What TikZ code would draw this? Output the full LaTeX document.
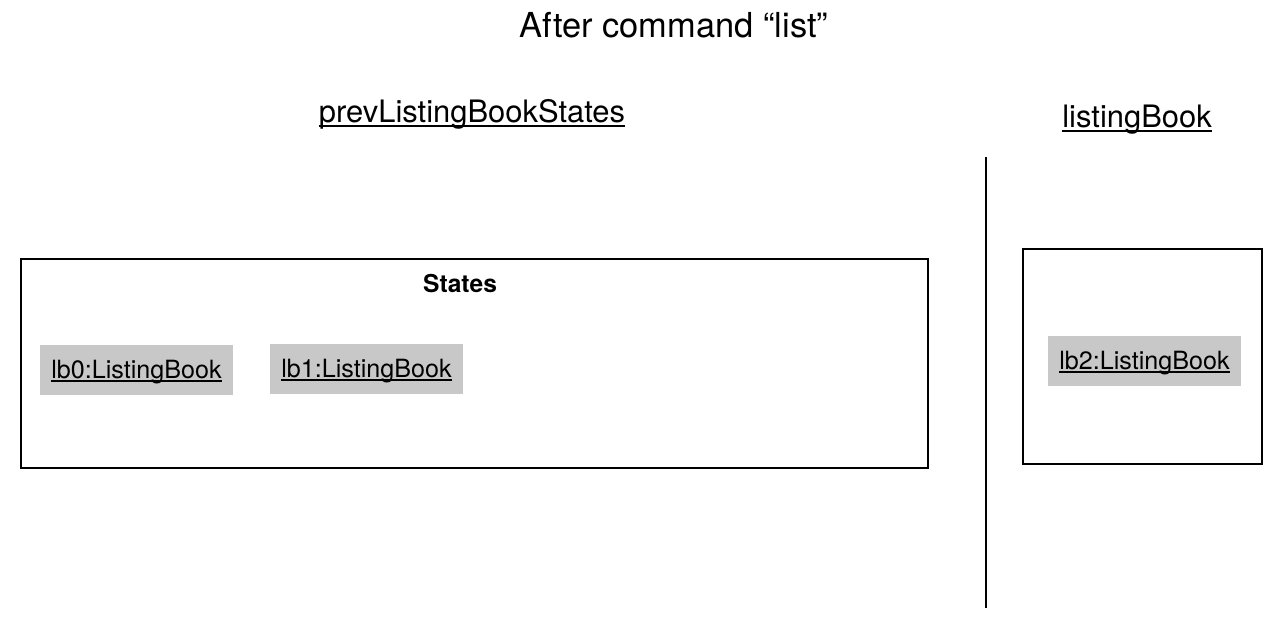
\documentclass[tikz,border=0pt]{standalone}
\usepackage{fontspec}
\setmainfont{TeX Gyre Heros}
\usepackage{tikz}

\definecolor{objgray}{RGB}{200,200,200}

% underline that sits just below the baseline
\newcommand{\undl}[1]{\setbox0\hbox{#1}\rlap{\vrule height -0.09em depth 0.15em width \wd0}\box0}

\begin{document}
\begin{tikzpicture} [x=0.02cm, y=-0.02cm,
  frame/.style = {draw,
    line width = 1.3pt,
    rectangle,
    inner sep = 0pt},
  obj/.style = {fill=objgray,
    anchor = base,
    minimum width = 3.86cm,
    text height = 0.66cm,
    text depth = 0.34cm,
    inner sep = 0pt,
    font = \fontsize{14.3}{16}\selectfont},
  heading/.style = {anchor = base,
    font = \fontsize{17.6}{20}\selectfont}]

\useasboundingbox (0,0) rectangle (1280,620);

\node (title) at (674,37) [anchor=base, font=\fontsize{19.6}{22}\selectfont] {After command “list”};

\node (prev) at (472,122) [heading] {\undl{prevListingBookStates}};
\node (cur) at (1137,127) [heading] {\undl{listingBook}};

\draw [line width=1.3pt] (986,157) -- (986,608);

\node (states) at (474.5,363.5) [frame, minimum width=18.14cm, minimum height=4.18cm] {};
\node (statesname) at (460,292) [anchor=base, font=\fontsize{14}{16}\selectfont\bfseries] {States};

\node (lb0) at (136.5,378) [obj] {\undl{lb0:ListingBook}};
\node (lb1) at (366.5,377) [obj] {\undl{lb1:ListingBook}};

\node (current) at (1142.5,356.5) [frame, minimum width=4.78cm, minimum height=4.3cm] {};
\node (lb2) at (1144.5,369) [obj] {\undl{lb2:ListingBook}};

\end{tikzpicture}
\end{document}
